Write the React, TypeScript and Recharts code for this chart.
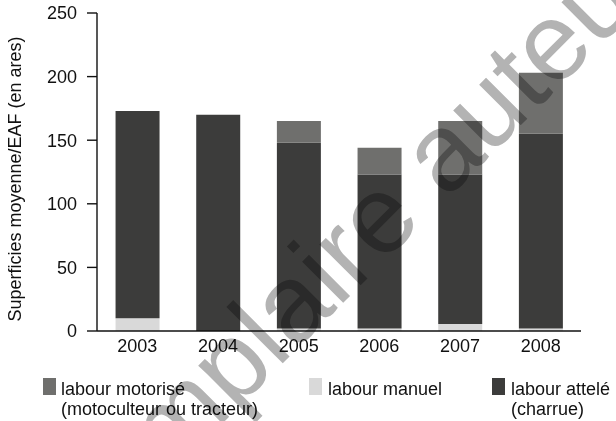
import React from 'react';
import { BarChart, Bar, XAxis, YAxis } from 'recharts';

const years = ['2003', '2004', '2005', '2006', '2007', '2008'];
const manuel = [10, 0, 2, 2, 5.5, 2];
const attele = [163, 170, 146, 121, 117.5, 153];
const motorise = [0, 0, 17, 21, 42, 48];
const yTicks = [0, 50, 100, 150, 200, 250];

const COL_MOTO = '#6f6f6d';
const COL_MANU = '#d9d9d9';
const COL_ATT = '#3c3c3b';
const FONT = '"Liberation Sans", Arial, Helvetica, sans-serif';

const data = years.map((y, i) => ({
  year: y,
  manuel: manuel[i],
  attele: attele[i],
  motorise: motorise[i],
}));

const YLabel = (props: any) => {
  const vb = props.viewBox || { x: 0, y: 0, width: 0, height: 0 };
  const cx = vb.x + 15;
  const cy = vb.y + vb.height / 2 + 7;
  return (
    <text
      x={cx}
      y={cy}
      transform={`rotate(-90, ${cx}, ${cy})`}
      textAnchor="middle"
      dominantBaseline="central"
      fontSize={18}
      fontFamily={FONT}
      fill="#111"
    >
      Superficies moyenne/EAF (en ares)
    </text>
  );
};

export default function App() {
  return (
    <div style={{ position: 'absolute', left: 0, top: 0, width: 616, height: 421, background: '#fff', fontFamily: FONT }}>
      <BarChart
        width={616}
        height={421}
        data={data}
        margin={{ top: 13, right: 35, bottom: 60, left: 0 }}
        barCategoryGap="23%"
      >
        <XAxis
          dataKey="year"
          height={30}
          axisLine={{ stroke: '#111', strokeWidth: 1.4 }}
          tickLine={false}
          tickSize={0}
          tickMargin={8}
          tick={{ fill: '#111', fontSize: 18, fontFamily: FONT }}
        />
        <YAxis
          width={97}
          domain={[0, 250]}
          ticks={yTicks}
          interval={0}
          axisLine={{ stroke: '#111', strokeWidth: 1.4 }}
          tickLine={{ stroke: '#111', strokeWidth: 1.4 }}
          tickSize={10}
          tickMargin={10}
          tick={{ fill: '#111', fontSize: 18, fontFamily: FONT }}
          label={<YLabel />}
        />
        <Bar dataKey="manuel" stackId="a" fill={COL_MANU} isAnimationActive={false} />
        <Bar dataKey="attele" stackId="a" fill={COL_ATT} isAnimationActive={false} />
        <Bar dataKey="motorise" stackId="a" fill={COL_MOTO} isAnimationActive={false} />
      </BarChart>
      <svg width={616} height={421} style={{ position: 'absolute', left: 0, top: 0, pointerEvents: 'none' }}>
        <g fontFamily={FONT} fontSize={18} fill="#111">
          <rect x={43} y={378} width={13} height={17} fill={COL_MOTO} />
          <text x={61} y={395}>labour motorisé</text>
          <text x={61} y={415}>(motoculteur ou tracteur)</text>
          <rect x={309} y={378} width={13} height={17} fill={COL_MANU} />
          <text x={328} y={395}>labour manuel</text>
          <rect x={492} y={378} width={13} height={17} fill={COL_ATT} />
          <text x={511} y={395}>labour attelé</text>
          <text x={511} y={415}>(charrue)</text>
        </g>
      </svg>
      <svg width={616} height={421} style={{ position: 'absolute', left: 0, top: 0, pointerEvents: 'none', mixBlendMode: 'multiply' }}>
        <text
          x={351}
          y={295}
          transform="rotate(-45, 351, 295)"
          textAnchor="middle"
          fontSize={110}
          fontFamily={FONT}
          fill="#b3b3b3"
        >
          Exemplaire auteur
        </text>
      </svg>
    </div>
  );
}
